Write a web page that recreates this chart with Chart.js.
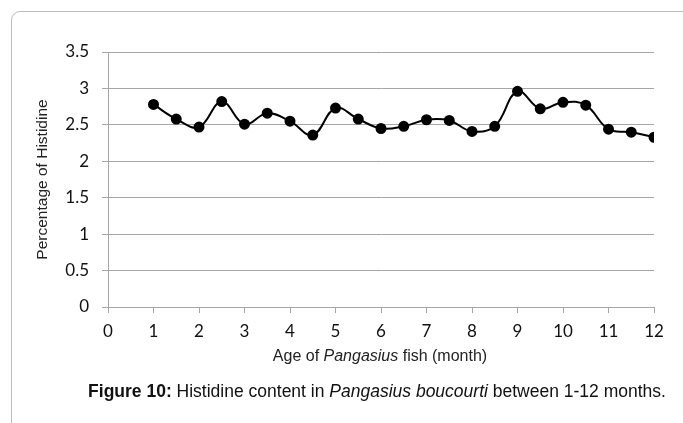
<!DOCTYPE html>
<html lang="en">
<head>
    <meta charset="UTF-8">
    <title>Histidine content</title>
    <script src="https://cdn.jsdelivr.net/npm/chart.js@4.4.0/dist/chart.umd.min.js"></script>
    <style>
        html, body { margin: 0; padding: 0; background: #fff; }
        #wrap { position: relative; width: 683px; height: 423px; overflow: hidden; }
        #frame {
            position: absolute; left: 11px; top: 11px; width: 700px; height: 440px;
            border: 1px solid #bdbdbd; border-top-left-radius: 9px;
        }
        #chartBox { position: absolute; left: 0; top: 0; width: 683px; height: 423px; }
        .xtitle {
            position: absolute; top: 347px; left: 0; width: 760px; text-align: center;
            font-family: "Liberation Sans", Arial, sans-serif; font-size: 16px; color: #222;
        }
        .caption {
            position: absolute; top: 381px; left: 0; width: 754px; text-align: center;
            font-family: "Liberation Sans", Arial, sans-serif; font-size: 17.5px; color: #111;
        }
    </style>
</head>
<body>
<div id="wrap">
    <div id="frame"></div>
    <div id="chartBox"><canvas id="histChart"></canvas></div>
    <div class="xtitle">Age of <i>Pangasius</i> fish (month)</div>
    <div class="caption"><b>Figure 10:</b> Histidine content in <i>Pangasius boucourti</i> between 1-12 months.</div>
</div>
<script>
var ages = [1, 1.5, 2, 2.5, 3, 3.5, 4, 4.5, 5, 5.5, 6, 6.5, 7, 7.5, 8, 8.5, 9, 9.5, 10, 10.5, 11, 11.5, 12];
var histidine = [2.78, 2.58, 2.47, 2.82, 2.51, 2.66, 2.55, 2.36, 2.73, 2.58, 2.45, 2.48, 2.57, 2.56, 2.41, 2.48, 2.96, 2.72, 2.81, 2.77, 2.44, 2.40, 2.33];
var xTicks = [0, 1, 2, 3, 4, 5, 6, 7, 8, 9, 10, 11, 12];
var yTicks = [0, 0.5, 1, 1.5, 2, 2.5, 3, 3.5];

var points = [];
for (var i = 0; i < ages.length; i++) {
    points.push({ x: ages[i], y: histidine[i] });
}

var tickFont = { family: 'Lato, "Open Sans", sans-serif', size: 17 };

var ctx = document.getElementById('histChart').getContext('2d');
var chart = new Chart(ctx, {
    type: 'line',
    data: {
        datasets: [{
            label: 'Histidine',
            data: points,
            borderColor: '#000000',
            backgroundColor: '#000000',
            borderWidth: 2,
            pointRadius: 4.5,
            pointHoverRadius: 4.5,
            tension: 0.4,
            fill: false
        }]
    },
    options: {
        responsive: true,
        maintainAspectRatio: false,
        animation: false,
        layout: { padding: { left: 33, top: 52, right: 29, bottom: 78 } },
        plugins: {
            legend: { display: false },
            tooltip: { enabled: false }
        },
        scales: {
            x: {
                type: 'linear',
                min: 0,
                max: 12,
                afterBuildTicks: function (axis) {
                    axis.ticks = xTicks.map(function (v) { return { value: v }; });
                },
                afterFit: function (axis) { axis.height = 38; },
                border: { color: '#a6a6a6', width: 1 },
                grid: { drawOnChartArea: false, drawTicks: true, tickLength: 6, color: '#a6a6a6' },
                ticks: { color: '#111', font: tickFont, padding: 8, maxRotation: 0, autoSkip: false }
            },
            y: {
                min: 0,
                max: 3.5,
                afterBuildTicks: function (axis) {
                    axis.ticks = yTicks.map(function (v) { return { value: v }; });
                },
                afterFit: function (axis) { axis.width = 75; },
                border: { color: '#a6a6a6', width: 1 },
                grid: { color: '#a6a6a6', tickLength: 6 },
                ticks: {
                    color: '#111',
                    font: tickFont,
                    padding: 13,
                    callback: function (v) { return String(v); }
                },
                title: {
                    display: true,
                    text: 'Percentage of Histidine',
                    color: '#222',
                    font: { family: '"Liberation Sans", Arial, sans-serif', size: 15.5 },
                    padding: 0
                }
            }
        }
    }
});
</script>
</body>
</html>
